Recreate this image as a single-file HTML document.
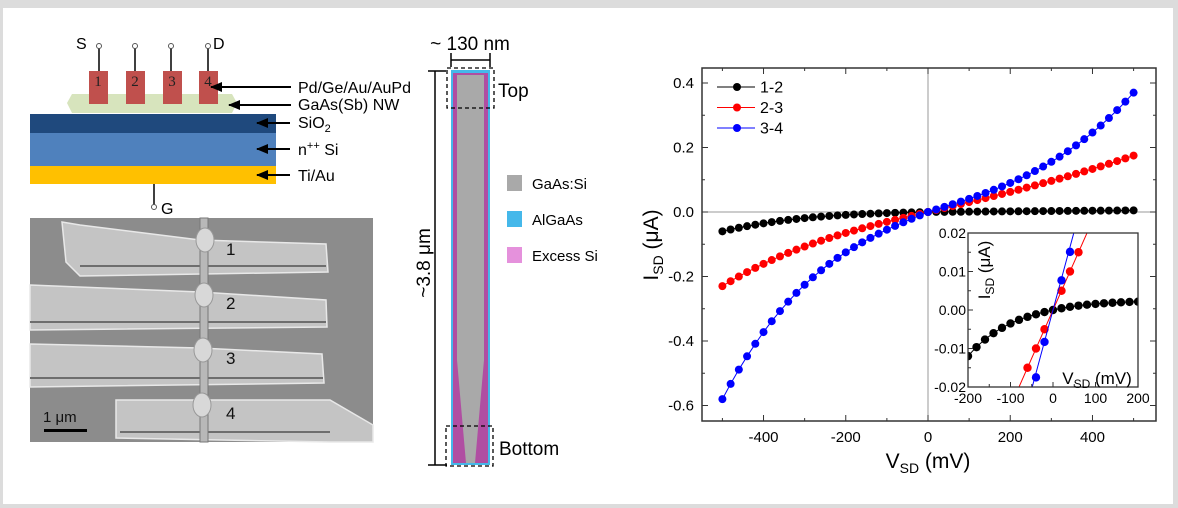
<!DOCTYPE html>
<html><head><meta charset="utf-8"><style>
html,body{margin:0;padding:0;background:#dcdcdc;}
svg{display:block;font-family:"Liberation Sans",Arial,sans-serif;}
</style></head><body>
<svg id="s" width="1178" height="508" xmlns="http://www.w3.org/2000/svg">
<rect x="0" y="0" width="1178" height="508" fill="#dcdcdc"/>
<rect x="3" y="8" width="1170" height="496" fill="#fff"/>
<defs>
<marker id="ah" markerUnits="userSpaceOnUse" markerWidth="12" markerHeight="10" refX="11" refY="5" orient="auto"><path d="M0,0 L12,5 L0,10 z" fill="#000"/></marker>
</defs>
<!-- schematic -->
<rect x="30" y="114" width="246" height="19" fill="#1f497d"/>
<rect x="30" y="133" width="246" height="33" fill="#4f81bd"/>
<rect x="30" y="166" width="246" height="18" fill="#ffc000"/>
<polygon points="72,94 232,94 237,103 232,113 72,113 67,103" fill="#d7e4bd"/>
<g fill="#c0504d">
<rect x="89" y="71" width="19" height="33"/><rect x="126" y="71" width="19" height="33"/>
<rect x="163" y="71" width="19" height="33"/><rect x="199" y="71" width="19" height="33"/>
</g>
<g stroke="#000" stroke-width="1.5">
<line x1="99" y1="48" x2="99" y2="71"/><line x1="135" y1="48" x2="135" y2="71"/>
<line x1="171" y1="48" x2="171" y2="71"/><line x1="208" y1="48" x2="208" y2="71"/>
<line x1="154" y1="184" x2="154" y2="205"/>
</g>
<g fill="#fff" stroke="#555" stroke-width="1">
<circle cx="99" cy="46" r="2.5"/><circle cx="135" cy="46" r="2.5"/><circle cx="171" cy="46" r="2.5"/><circle cx="208" cy="46" r="2.5"/><circle cx="154" cy="207" r="2.5"/>
</g>
<g font-family="Liberation Serif,serif" font-size="15" fill="#222" text-anchor="middle">
<text x="98" y="86">1</text><text x="135" y="86">2</text><text x="172" y="86">3</text><text x="208" y="86">4</text>
</g>
<g font-size="16" fill="#000">
<text x="76" y="49">S</text><text x="213" y="49">D</text><text x="161" y="214">G</text>
</g>
<g stroke="#000" stroke-width="2" marker-end="url(#ah)">
<line x1="291" y1="87" x2="211" y2="87"/>
<line x1="291" y1="105" x2="229" y2="105"/>
<line x1="290" y1="123" x2="257" y2="123"/>
<line x1="290" y1="149" x2="257" y2="149"/>
<line x1="290" y1="175" x2="257" y2="175"/>
</g>
<g font-size="16" fill="#000">
<text x="298" y="93">Pd/Ge/Au/AuPd</text>
<text x="298" y="110">GaAs(Sb) NW</text>
<text x="298" y="128">SiO<tspan font-size="11" dy="4">2</tspan></text>
<text x="298" y="155">n<tspan font-size="11" dy="-6">++</tspan><tspan dy="6"> Si</tspan></text>
<text x="298" y="181">Ti/Au</text>
</g>
<!-- SEM -->
<rect x="30" y="218" width="343" height="224" fill="#8c8c8c"/>
<g fill="#c4c4c4" stroke="#e8e8e8" stroke-width="1.5">
<path d="M62,222 L80,225 L200,240 L326,244 L328,272 L80,276 L66,262 Z"/>
<path d="M30,285 L200,292 L326,300 L327,327 L30,330 Z"/>
<path d="M30,344 L200,348 L322,354 L324,383 L30,387 Z"/>
<path d="M116,400 L330,400 L373,425 L373,442 L330,442 L116,438 Z"/>
</g>
<g stroke="#6e6e6e" stroke-width="2" fill="none">
<line x1="80" y1="266" x2="326" y2="266"/><line x1="30" y1="322" x2="326" y2="322"/>
<line x1="30" y1="378" x2="323" y2="378"/><line x1="120" y1="432" x2="330" y2="432"/>
</g>
<rect x="200" y="218" width="8" height="224" fill="#b8b8b8" stroke="#777" stroke-width="1"/>
<g fill="#d8d8d8" stroke="#999">
<ellipse cx="205" cy="240" rx="9" ry="12"/><ellipse cx="204" cy="295" rx="9" ry="12"/>
<ellipse cx="203" cy="350" rx="9" ry="12"/><ellipse cx="202" cy="405" rx="9" ry="12"/>
</g>
<g font-size="17" fill="#111">
<text x="226" y="255">1</text><text x="226" y="309">2</text><text x="226" y="364">3</text><text x="226" y="419">4</text>
<text x="43" y="422" font-size="15">1 μm</text>
</g>
<rect x="44" y="429" width="43" height="3" fill="#000"/>
<!-- nanowire -->
<rect x="451" y="70" width="39" height="395" fill="#45b8ea"/>
<rect x="453" y="73" width="35" height="390" fill="#b04ea2"/>
<polygon points="457,75 484,75 484,360 475,463 466,463 457,360" fill="#a9a9a9"/>
<g fill="none" stroke="#000" stroke-dasharray="4,3" stroke-width="1.3">
<rect x="447" y="68" width="47" height="40"/><rect x="446" y="426" width="47" height="40"/>
</g>
<g stroke="#000" stroke-width="1.5">
<line x1="435" y1="71" x2="435" y2="465"/><line x1="428" y1="71" x2="446" y2="71"/><line x1="428" y1="465" x2="447" y2="465"/>
<line x1="451" y1="60" x2="490" y2="60"/><line x1="451" y1="53" x2="451" y2="67"/><line x1="490" y1="53" x2="490" y2="67"/>
</g>
<g font-size="19" fill="#000">
<text x="470" y="50" text-anchor="middle">~ 130 nm</text>
<text x="498" y="97">Top</text>
<text x="499" y="455">Bottom</text>
<text transform="translate(430,263) rotate(-90)" text-anchor="middle">~3.8 μm</text>
</g>
<rect x="507" y="175" width="15" height="16" fill="#a9a9a9"/>
<rect x="507" y="211" width="15" height="16" fill="#45b8ea"/>
<rect x="507" y="247" width="15" height="16" fill="#e591dc"/>
<g font-size="15" fill="#000">
<text x="532" y="189">GaAs:Si</text><text x="532" y="225">AlGaAs</text><text x="532" y="261">Excess Si</text>
</g>
<!-- chart -->
<g id="chart"></g>
</svg>
<script>
var NS="http://www.w3.org/2000/svg",g=document.getElementById('chart');
function el(t,a,txt){var e=document.createElementNS(NS,t);for(var k in a)e.setAttribute(k,a[k]);if(txt!=null)e.textContent=txt;g.appendChild(e);return e;}
var X=function(v){return 928+v*0.4112},Y=function(i){return 212-i*322.5};
el('line',{x1:X(0),y1:68,x2:X(0),y2:421,stroke:'#999','stroke-width':1});
el('line',{x1:702,y1:212,x2:1156,y2:212,stroke:'#999','stroke-width':1});
function cub(a1,b1,a2,b2){return function(v){var a=Math.abs(v);return v<0?-(a1*a+b1*a*a*a):(a2*a+b2*a*a*a);}}
var S=[['#000',cub(3.07e-5,3.57e-10,1e-5,0)],['#f00',cub(2.99e-4,6.43e-10,3.05e-4,1.8e-10)],['#00f',cub(5.23e-4,2.55e-9,3.95e-4,1.38e-9)]];
S.forEach(function(s){var p=[];for(var v=-500;v<=500;v+=20)p.push(X(v).toFixed(1)+','+Y(s[1](v)).toFixed(1));
el('polyline',{points:p.join(' '),fill:'none',stroke:s[0],'stroke-width':1});
for(var v=-500;v<=500;v+=20)el('circle',{cx:X(v),cy:Y(s[1](v)),r:4,fill:s[0]});});
el('rect',{x:702,y:68,width:454,height:353,fill:'none',stroke:'#333','stroke-width':1.5});
for(var v=-500;v<=500;v+=100){var x=X(v),L=(v%200==0)?6:3;
el('line',{x1:x,y1:421,x2:x,y2:421-L,stroke:'#333'});el('line',{x1:x,y1:68,x2:x,y2:68+L,stroke:'#333'});
if(v%200==0&&Math.abs(v)<500)el('text',{x:x,y:442,'font-size':15,'text-anchor':'middle'},String(v));}
for(var k=-6;k<=4;k++){var y=Y(k/10),L=(k%2==0)?6:3;
el('line',{x1:702,y1:y,x2:702+L,y2:y,stroke:'#333'});el('line',{x1:1156,y1:y,x2:1156-L,y2:y,stroke:'#333'});
if(k%2==0)el('text',{x:694,y:y+5,'font-size':15,'text-anchor':'end'},(k/10).toFixed(1));}
var t=el('text',{x:928,y:468,'font-size':21,'text-anchor':'middle'});t.innerHTML='V<tspan font-size="14" dy="5">SD</tspan><tspan dy="-5"> (mV)</tspan>';
t=el('text',{transform:'translate(658,245) rotate(-90)','font-size':21,'text-anchor':'middle'});t.innerHTML='I<tspan font-size="14" dy="5">SD</tspan><tspan dy="-5"> (μA)</tspan>';
[['#000','1-2',87],['#f00','2-3',107.5],['#00f','3-4',128]].forEach(function(l){
el('line',{x1:717,y1:l[2],x2:755,y2:l[2],stroke:l[0]});el('circle',{cx:737,cy:l[2],r:4,fill:l[0]});
el('text',{x:760,y:l[2]+5.5,'font-size':16},l[1]);});
var x0=968,x1=1138,y0=233,y1=387;
var IX=function(v){return 1053+v*0.425},IY=function(i){return 310-i*3850};
el('rect',{x:x0,y:y0,width:x1-x0,height:y1-y0,fill:'#fff'});
var cp=el('clipPath',{id:'ic'});var r=document.createElementNS(NS,'rect');r.setAttribute('x',x0);r.setAttribute('y',y0);r.setAttribute('width',x1-x0);r.setAttribute('height',y1-y0);cp.appendChild(r);
var ig=el('g',{'clip-path':'url(#ic)'});
function add(t,a){var e=document.createElementNS(NS,t);for(var k in a)e.setAttribute(k,a[k]);ig.appendChild(e);}
var bf=function(v){return v<0?-(2.67e-5*-v+8.3e-10*-v*-v*-v):0.0025*(1-Math.exp(-v/100));};
var p=[];for(var v=-210;v<=210;v+=5)p.push(IX(v)+','+IY(bf(v)));add('polyline',{points:p.join(' '),fill:'none',stroke:'#000'});
for(var v=-200;v<=200;v+=20)add('circle',{cx:IX(v),cy:IY(bf(v)),r:4.2,fill:'#000'});
add('line',{x1:IX(-90),y1:IY(-0.0225),x2:IX(90),y2:IY(0.0225),stroke:'#f00'});
[-60,-40,-20,20,40,60].forEach(function(v){add('circle',{cx:IX(v),cy:IY(v*2.5e-4),r:4.2,fill:'#f00'});});
add('line',{x1:IX(-55),y1:IY(-0.0225),x2:IX(55),y2:IY(0.0225),stroke:'#00f'});
[[-40,-0.0175],[-20,-0.0083],[20,0.0077],[40,0.0151]].forEach(function(d){add('circle',{cx:IX(d[0]),cy:IY(d[1]),r:4.2,fill:'#00f'});});
el('rect',{x:x0,y:y0,width:x1-x0,height:y1-y0,fill:'none',stroke:'#333','stroke-width':1.3});
for(var v=-200;v<=200;v+=50){var x=IX(v),L=(v%100==0)?5:3;el('line',{x1:x,y1:y1,x2:x,y2:y1-L,stroke:'#333'});
if(v%100==0)el('text',{x:x,y:403,'font-size':14,'text-anchor':'middle'},String(v));}
for(var k=-4;k<=4;k++){var y=IY(k*0.005),L=(k%2==0)?5:3;el('line',{x1:x0,y1:y,x2:x0+L,y2:y,stroke:'#333'});
if(k%2==0)el('text',{x:966,y:y+5,'font-size':14,'text-anchor':'end'},(k*0.005).toFixed(2));}
t=el('text',{x:1097,y:384,'font-size':17,'text-anchor':'middle'});t.innerHTML='V<tspan font-size="12" dy="4">SD</tspan><tspan dy="-4"> (mV)</tspan>';
t=el('text',{transform:'translate(990,270) rotate(-90)','font-size':17,'text-anchor':'middle'});t.innerHTML='I<tspan font-size="12" dy="4">SD</tspan><tspan dy="-4"> (μA)</tspan>';
</script>
</body></html>
